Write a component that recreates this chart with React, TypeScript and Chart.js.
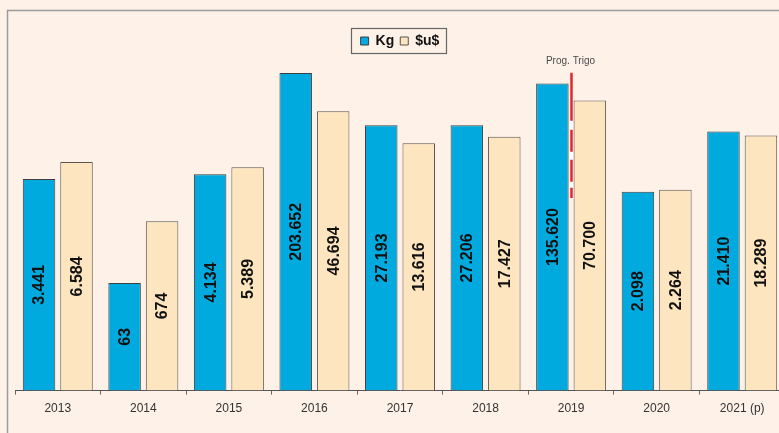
import React, { useEffect, useRef } from "react";
import { Chart, registerables } from "chart.js";

Chart.register(...registerables);

// ---- data ----
const YEARS = ["2013", "2014", "2015", "2016", "2017", "2018", "2019", "2020", "2021 (p)"];
const KG = [3441, 63, 4134, 203652, 27193, 27206, 135620, 2098, 21410];
const USD = [6584, 674, 5389, 46694, 13616, 17427, 70700, 2264, 18289];
const SERIES_NAMES = ["Kg", "$u$"];
const MARKER_CATEGORY = "2019";
const MARKER_LABEL = "Prog. Trigo";
const MARKER_FROM = 1650; // y-value where the marker line ends (log axis)
const MARKER_TO = 205000; // y-value where the marker line starts
const Y_MIN = 1;
const Y_MAX = 362000;

// ---- styles ----
const BG = "#FDF1E8";
const BLUE = "#00A9DE";
const CREAM = "#FDE5BF";
const EDGE = "#3f3f3f";
const FONT = "'Liberation Sans', Arial, sans-serif";

const fmt = (v: number) => String(v).replace(/\B(?=(\d{3})+(?!\d))/g, ".");

const framePlugin = {
  id: "frame",
  beforeDraw(chart: any) {
    const { ctx, width, height } = chart;
    ctx.save();
    ctx.fillStyle = BG;
    ctx.fillRect(0, 0, width, height);
    ctx.strokeStyle = "#9c9c9c";
    ctx.lineWidth = 1.5;
    ctx.strokeRect(7.5, 10.5, width + 20, height + 20);
    ctx.restore();
  },
};

const legendBoxPlugin = {
  id: "legendBox",
  afterDraw(chart: any) {
    const lg = chart.legend;
    if (!lg || !lg.legendHitBoxes || !lg.legendHitBoxes.length) return;
    const hb = lg.legendHitBoxes;
    let minX = Infinity, maxX = -Infinity;
    hb.forEach((h: any) => {
      minX = Math.min(minX, h.left);
      maxX = Math.max(maxX, h.left + h.width);
    });
    const cy = hb[0].top + hb[0].height / 2;
    const { ctx } = chart;
    ctx.save();
    ctx.strokeStyle = "#666";
    ctx.lineWidth = 1.2;
    ctx.strokeRect(Math.round(minX - 10) + 0.5, Math.round(cy - 13) + 0.5, Math.round(maxX - minX + 16), 25);
    ctx.restore();
  },
};

const valueLabelPlugin = {
  id: "valueLabels",
  afterDatasetsDraw(chart: any) {
    const { ctx } = chart;
    ctx.save();
    ctx.font = `bold 16px ${FONT}`;
    ctx.fillStyle = "#111";
    ctx.textAlign = "center";
    ctx.textBaseline = "middle";
    chart.data.datasets.forEach((ds: any, di: number) => {
      const meta = chart.getDatasetMeta(di);
      meta.data.forEach((el: any, i: number) => {
        const cy = (el.y + el.base) / 2;
        ctx.save();
        ctx.translate(el.x, cy);
        ctx.rotate(-Math.PI / 2);
        ctx.fillText(fmt(ds.data[i]), 0, 1);
        ctx.restore();
      });
    });
    ctx.restore();
  },
};

const markerPlugin = {
  id: "marker",
  afterDatasetsDraw(chart: any) {
    const { ctx } = chart;
    const xs = chart.scales.x;
    const ys = chart.scales.y;
    const idx = YEARS.indexOf(MARKER_CATEGORY);
    const x = Math.round(xs.getPixelForValue(idx)) + 0.5;
    const y1 = ys.getPixelForValue(MARKER_TO);
    const y2 = ys.getPixelForValue(MARKER_FROM);
    ctx.save();
    ctx.lineWidth = 3;
    ctx.strokeStyle = "#ffffff";
    ctx.beginPath();
    ctx.moveTo(x, y1 + 10);
    ctx.lineTo(x, y2);
    ctx.stroke();
    ctx.strokeStyle = "#E2262B";
    ctx.lineWidth = 2.5;
    ctx.setLineDash([48, 9, 22, 8, 22, 6]);
    ctx.beginPath();
    ctx.moveTo(x, y1);
    ctx.lineTo(x, y2);
    ctx.stroke();
    ctx.setLineDash([]);
    ctx.font = `10px ${FONT}`;
    ctx.fillStyle = "#4a4a4a";
    ctx.textAlign = "center";
    ctx.textBaseline = "middle";
    ctx.fillText(MARKER_LABEL, x - 1, y1 - 12);
    ctx.restore();
  },
};

export default function App() {
  const ref = useRef<HTMLCanvasElement | null>(null);
  useEffect(() => {
    if (!ref.current) return;
    const chart = new Chart(ref.current, {
      type: "bar",
      data: {
        labels: YEARS,
        datasets: [
          {
            label: SERIES_NAMES[0],
            data: KG,
            backgroundColor: BLUE,
            borderColor: EDGE,
            borderWidth: 1,
            barPercentage: 0.867,
            categoryPercentage: 0.876,
          },
          {
            label: SERIES_NAMES[1],
            data: USD,
            backgroundColor: CREAM,
            borderColor: "#5a5550",
            borderWidth: 1,
            barPercentage: 0.867,
            categoryPercentage: 0.876,
          },
        ],
      },
      options: {
        responsive: false,
        devicePixelRatio: 1,
        animation: false,
        layout: { padding: { top: 28, left: 15, right: 15, bottom: 10 } },
        plugins: {
          legend: {
            display: true,
            position: "top",
            labels: {
              boxWidth: 8,
              boxHeight: 8,
              padding: 6,
              color: "#111",
              font: { family: FONT, size: 14, weight: "bold" },
            },
          },
          tooltip: { enabled: false },
        },
        scales: {
          x: {
            grid: {
              display: true,
              drawOnChartArea: false,
              drawTicks: true,
              tickLength: 4,
              color: "#666",
              offset: true,
            },
            border: { display: true, color: "#555", width: 1 },
            ticks: { color: "#333", padding: 7, font: { family: FONT, size: 12 } },
          },
          y: {
            type: "logarithmic",
            display: false,
            min: Y_MIN,
            max: Y_MAX,
          },
        },
      },
      plugins: [framePlugin, valueLabelPlugin, markerPlugin, legendBoxPlugin],
    } as any);
    return () => chart.destroy();
  }, []);
  return (
    <div
      style={{
        position: "fixed",
        left: 0,
        top: 0,
        width: 779,
        height: 433,
        overflow: "hidden",
        background: BG,
      }}
    >
      <canvas ref={ref} width={800} height={433} style={{ display: "block" }} />
    </div>
  );
}
